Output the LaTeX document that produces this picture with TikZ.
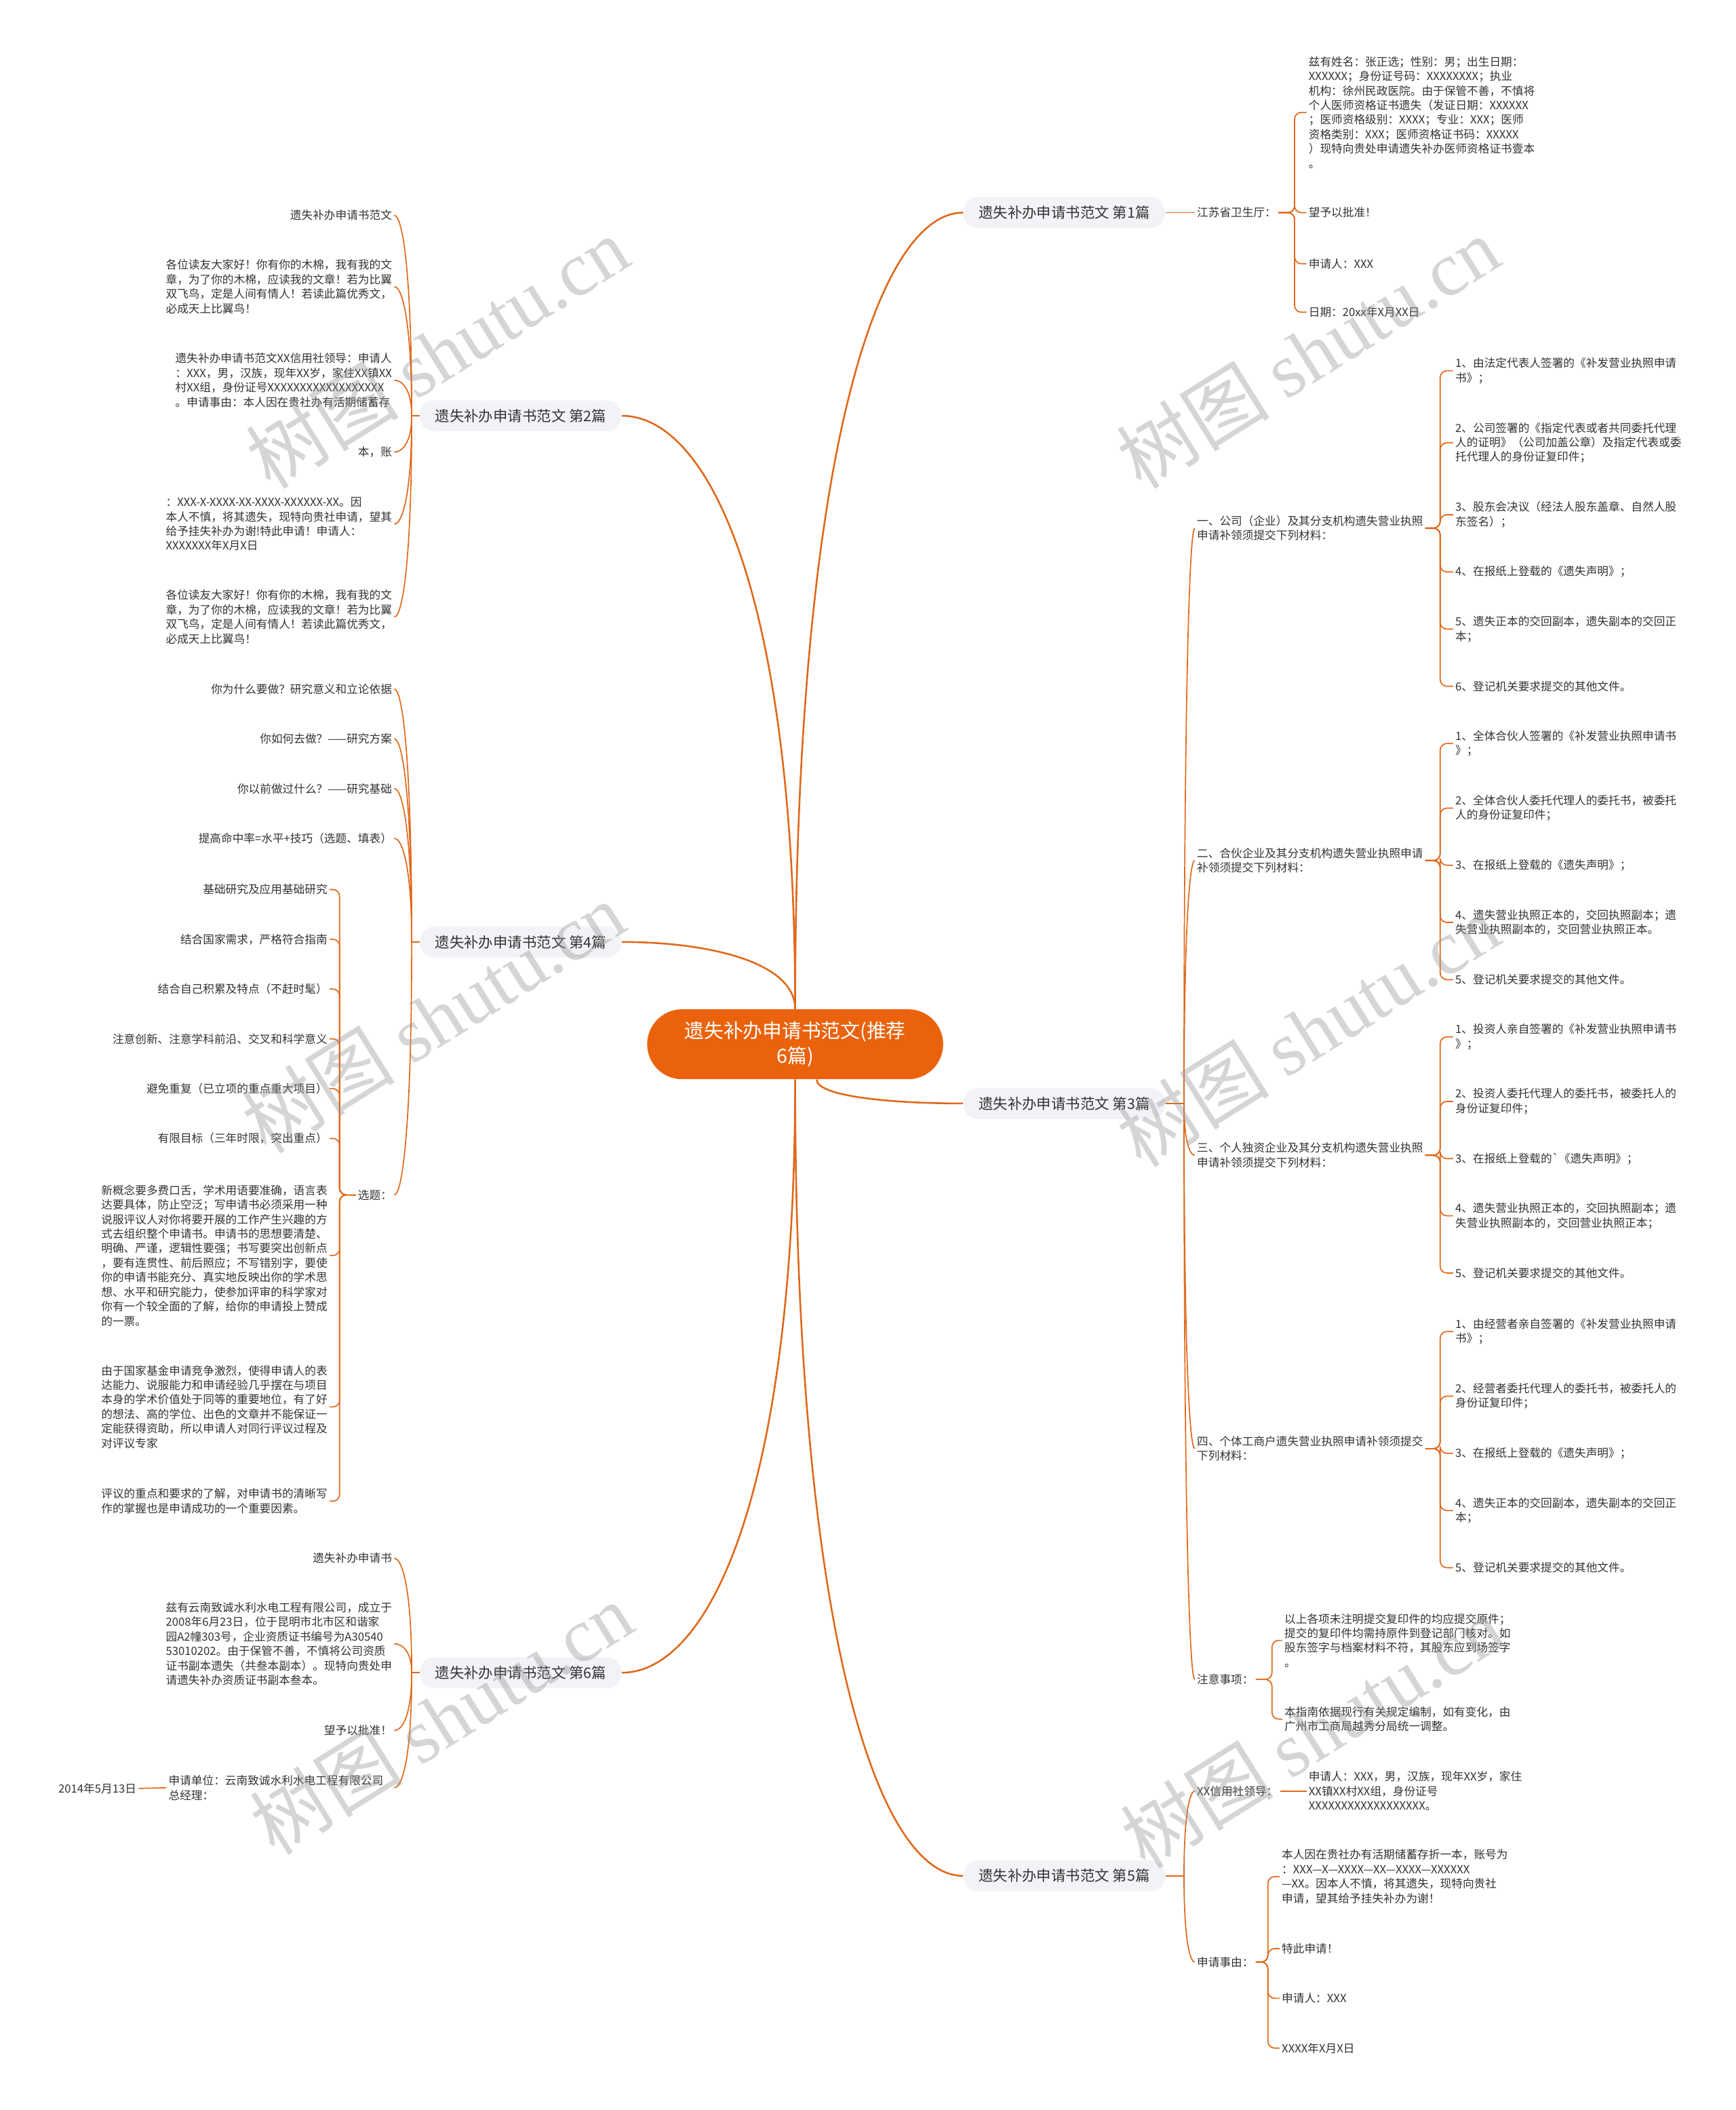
\documentclass[tikz,border=0pt]{standalone}
\usepackage{fontspec}
\setmainfont{Noto Sans CJK SC}
\newfontfamily\wmlatin{Liberation Serif}
\usepackage{tikz}
\usetikzlibrary{calc}
\definecolor{maporange}{RGB}{234, 99, 12}
\definecolor{linkorange}{RGB}{224, 104, 26}
\definecolor{topicfill}{RGB}{241, 243, 246}
\definecolor{inkgray}{RGB}{51, 51, 51}
\definecolor{wmgray}{RGB}{150, 150, 150}
\newcommand{\leaffont}{\fontsize{8.4}{10.8}\selectfont}
\newcommand{\topicfont}{\fontsize{10.8}{13}\selectfont}
\newcommand{\rootfont}{\fontsize{14.5}{19}\selectfont}
\newcommand{\wmtext}{{\fontsize{57}{57}\selectfont 树图 {\wmlatin shutu.cn}}}

\begin{document}
\begin{tikzpicture}[
  x=1pt, y=-1pt,
  root/.style={rectangle, rounded corners=26pt, minimum width=220pt, minimum height=52pt, fill=maporange, text=white, font=\rootfont, align=center, inner sep=0pt},
  topic/.style={rectangle, rounded corners=11pt, minimum width=150pt, minimum height=23pt, fill=topicfill, text=inkgray, font=\topicfont, inner sep=0pt},
  rtext/.style={anchor=west, align=left, inner sep=1.5pt, font=\leaffont, text=inkgray},
  ltext/.style={anchor=east, align=left, inner sep=1.5pt, font=\leaffont, text=inkgray},
  trunk/.style={draw=linkorange, line width=1.3pt},
  twig/.style={draw=linkorange, line width=0.85pt, rounded corners=5pt},
  sweep/.style={to path={.. controls ($(\tikztostart)!0.7!(\tikztostart |- \tikztotarget)$) and ($(\tikztotarget)!0.5!(\tikztostart |- \tikztotarget)$) .. (\tikztotarget)}},
  wmark/.style={rotate=32, text=wmgray, text opacity=0.4, inner sep=0pt}
]
\fill[white] (0,0) rectangle (1290,1568);
\useasboundingbox (0,0) rectangle (1290,1568);

% Root and topics
\node[root] (main) at (591,776) {遗失补办申请书范文(推荐\\6篇)};
\node[topic] (t1) at (791,158) {遗失补办申请书范文 第1篇};
\node[topic] (t3) at (791,820) {遗失补办申请书范文 第3篇};
\node[topic] (t5) at (791,1394) {遗失补办申请书范文 第5篇};
\node[topic] (t2) at (387,309) {遗失补办申请书范文 第2篇};
\node[topic] (t4) at (387,700) {遗失补办申请书范文 第4篇};
\node[topic] (t6) at (387,1243) {遗失补办申请书范文 第6篇};

% Branch 1 (right, top)
\node[rtext] (jsw) at (888,158) {江苏省卫生厅：};
\node[rtext] (p1) at (971,83.5) {兹有姓名：张正选；性别：男；出生日期：\\XXXXXX；身份证号码：XXXXXXXX；执业\\机构：徐州民政医院。由于保管不善，不慎将\\个人医师资格证书遗失（发证日期：XXXXXX\\；医师资格级别：XXXX；专业：XXX；医师\\资格类别：XXX；医师资格证书码：XXXXX\\）现特向贵处申请遗失补办医师资格证书壹本\\。};
\node[rtext] (p2) at (971,158) {望予以批准！};
\node[rtext] (p3) at (971,196) {申请人：XXX};
\node[rtext] (p4) at (971,232) {日期：20xx年X月XX日};

% Branch 3 (right, middle)
\node[rtext] (s1) at (888,392.5) {一、公司（企业）及其分支机构遗失营业执照\\申请补领须提交下列材料：};
\node[rtext] (s2) at (888,639.5) {二、合伙企业及其分支机构遗失营业执照申请\\补领须提交下列材料：};
\node[rtext] (s3) at (888,858.5) {三、个人独资企业及其分支机构遗失营业执照\\申请补领须提交下列材料：};
\node[rtext] (s4) at (888,1076.5) {四、个体工商户遗失营业执照申请补领须提交\\下列材料：};
\node[rtext] (s5) at (888,1248) {注意事项：};

\node[rtext] (a11) at (1080,275.5) {1、由法定代表人签署的《补发营业执照申请\\书》；};
\node[rtext] (a12) at (1080,329) {2、公司签署的《指定代表或者共同委托代理\\人的证明》（公司加盖公章）及指定代表或委\\托代理人的身份证复印件；};
\node[rtext] (a13) at (1080,382.5) {3、股东会决议（经法人股东盖章、自然人股\\东签名）；};
\node[rtext] (a14) at (1080,425) {4、在报纸上登载的《遗失声明》；};
\node[rtext] (a15) at (1080,467.5) {5、遗失正本的交回副本，遗失副本的交回正\\本；};
\node[rtext] (a16) at (1080,510) {6、登记机关要求提交的其他文件。};

\node[rtext] (a21) at (1080,552.5) {1、全体合伙人签署的《补发营业执照申请书\\》；};
\node[rtext] (a22) at (1080,600.5) {2、全体合伙人委托代理人的委托书，被委托\\人的身份证复印件；};
\node[rtext] (a23) at (1080,643) {3、在报纸上登载的《遗失声明》；};
\node[rtext] (a24) at (1080,685.5) {4、遗失营业执照正本的，交回执照副本；遗\\失营业执照副本的，交回营业执照正本。};
\node[rtext] (a25) at (1080,728) {5、登记机关要求提交的其他文件。};

\node[rtext] (a31) at (1080,770.5) {1、投资人亲自签署的《补发营业执照申请书\\》；};
\node[rtext] (a32) at (1080,818.5) {2、投资人委托代理人的委托书，被委托人的\\身份证复印件；};
\node[rtext] (a33) at (1080,861) {3、在报纸上登载的\textasciigrave《遗失声明》；};
\node[rtext] (a34) at (1080,903.5) {4、遗失营业执照正本的，交回执照副本；遗\\失营业执照副本的，交回营业执照正本；};
\node[rtext] (a35) at (1080,946) {5、登记机关要求提交的其他文件。};

\node[rtext] (a41) at (1080,989.5) {1、由经营者亲自签署的《补发营业执照申请\\书》；};
\node[rtext] (a42) at (1080,1037.5) {2、经营者委托代理人的委托书，被委托人的\\身份证复印件；};
\node[rtext] (a43) at (1080,1080) {3、在报纸上登载的《遗失声明》；};
\node[rtext] (a44) at (1080,1122.5) {4、遗失正本的交回副本，遗失副本的交回正\\本；};
\node[rtext] (a45) at (1080,1165) {5、登记机关要求提交的其他文件。};

\node[rtext] (a51) at (953,1219) {以上各项未注明提交复印件的均应提交原件；\\提交的复印件均需持原件到登记部门核对。如\\股东签字与档案材料不符，其股东应到场签字\\。};
\node[rtext] (a52) at (953,1277.5) {本指南依据现行有关规定编制，如有变化，由\\广州市工商局越秀分局统一调整。};

% Branch 5 (right, bottom)
\node[rtext] (q1) at (888,1331) {XX信用社领导：};
\node[rtext] (q2) at (888,1458) {申请事由：};
\node[rtext] (q11) at (971,1331) {申请人：XXX，男，汉族，现年XX岁，家住\\XX镇XX村XX组，身份证号\\XXXXXXXXXXXXXXXXXX。};
\node[rtext] (q21) at (951,1394.5) {本人因在贵社办有活期储蓄存折一本，账号为\\：XXX—X—XXXX—XX—XXXX—XXXXXX\\—XX。因本人不慎，将其遗失，现特向贵社\\申请，望其给予挂失补办为谢！};
\node[rtext] (q22) at (951,1448) {特此申请！};
\node[rtext] (q23) at (951,1485) {申请人：XXX};
\node[rtext] (q24) at (951,1522) {XXXX年X月X日};

% Branch 2 (left, top)
\node[ltext] (l21) at (293,160) {遗失补办申请书范文};
\node[ltext] (l22) at (293,213) {各位读友大家好！你有你的木棉，我有我的文\\章，为了你的木棉，应读我的文章！若为比翼\\双飞鸟，定是人间有情人！若读此篇优秀文，\\必成天上比翼鸟！};
\node[ltext] (l23) at (293,282.5) {遗失补办申请书范文XX信用社领导：申请人\\：XXX，男，汉族，现年XX岁，家住XX镇XX\\村XX组，身份证号XXXXXXXXXXXXXXXXXX\\。申请事由：本人因在贵社办有活期储蓄存};
\node[ltext] (l24) at (293,336) {本，账};
\node[ltext] (l25) at (293,389.5) {：XXX-X-XXXX-XX-XXXX-XXXXXX-XX。因\\本人不慎，将其遗失，现特向贵社申请，望其\\给予挂失补办为谢!特此申请！申请人：\\XXXXXXX年X月X日};
\node[ltext] (l26) at (293,458.5) {各位读友大家好！你有你的木棉，我有我的文\\章，为了你的木棉，应读我的文章！若为比翼\\双飞鸟，定是人间有情人！若读此篇优秀文，\\必成天上比翼鸟！};

% Branch 4 (left, middle)
\node[ltext] (l41) at (293,512) {你为什么要做？研究意义和立论依据};
\node[ltext] (l42) at (293,549) {你如何去做？——研究方案};
\node[ltext] (l43) at (293,586) {你以前做过什么？——研究基础};
\node[ltext] (l44) at (293,623) {提高命中率=水平+技巧（选题、填表）};
\node[ltext] (xt) at (293,888) {选题：};

\node[ltext] (m1) at (245,661) {基础研究及应用基础研究};
\node[ltext] (m2) at (245,698) {结合国家需求，严格符合指南};
\node[ltext] (m3) at (245,735) {结合自己积累及特点（不赶时髦）};
\node[ltext] (m4) at (245,772) {注意创新、注意学科前沿、交叉和科学意义};
\node[ltext] (m5) at (245,809) {避免重复（已立项的重点重大项目）};
\node[ltext] (m6) at (245,846) {有限目标（三年时限，突出重点）};
\node[ltext] (m7) at (245,933) {新概念要多费口舌，学术用语要准确，语言表\\达要具体，防止空泛；写申请书必须采用一种\\说服评议人对你将要开展的工作产生兴趣的方\\式去组织整个申请书。申请书的思想要清楚、\\明确、严谨，逻辑性要强；书写要突出创新点\\，要有连贯性、前后照应；不写错别字，要使\\你的申请书能充分、真实地反映出你的学术思\\想、水平和研究能力，使参加评审的科学家对\\你有一个较全面的了解，给你的申请投上赞成\\的一票。};
\node[ltext] (m8) at (245,1045.5) {由于国家基金申请竞争激烈，使得申请人的表\\达能力、说服能力和申请经验几乎摆在与项目\\本身的学术价值处于同等的重要地位，有了好\\的想法、高的学位、出色的文章并不能保证一\\定能获得资助，所以申请人对同行评议过程及\\对评议专家};
\node[ltext] (m9) at (245,1115.5) {评议的重点和要求的了解，对申请书的清晰写\\作的掌握也是申请成功的一个重要因素。};

% Branch 6 (left, bottom)
\node[ltext] (l61) at (293,1158) {遗失补办申请书};
\node[ltext] (l62) at (293,1221.5) {兹有云南致诚水利水电工程有限公司，成立于\\2008年6月23日，位于昆明市北市区和谐家\\园A2幢303号，企业资质证书编号为A30540\\53010202。由于保管不善，不慎将公司资质\\证书副本遗失（共叁本副本）。现特向贵处申\\请遗失补办资质证书副本叁本。};
\node[ltext] (l63) at (293,1286) {望予以批准！};
\node[ltext, text width=166pt] (l64) at (293,1328.5) {申请单位：云南致诚水利水电工程有限公司\\总经理：};
\node[ltext] (d6) at (103,1329) {2014年5月13日};

% Root -> topics
\coordinate (rs3) at ([xshift=16pt]main.south);
\draw[trunk] (main.north) to[sweep] (t1.west);
\draw[trunk] (main.north) to[sweep] (t2.east);
\draw[trunk] (main.north) to[sweep] (t4.east);
\draw[trunk] (rs3) to[sweep] (t3.west);
\draw[trunk] (main.south) to[sweep] (t5.west);
\draw[trunk] (main.south) to[sweep] (t6.east);

% Topic 1
\draw[twig] (t1.east) -- (jsw.west);
\foreach \n in {p1,p2,p3,p4}
  \draw[twig] (jsw.east) -- ++(12,0) |- (\n.west);

% Topic 3
\coordinate (j3) at (880,820);
\draw[twig] (t3.east) -- (j3);
\foreach \n in {s1,s2,s3,s4,s5}
  \draw[twig] (j3) to[sweep] (\n.west);
\foreach \n in {a11,a12,a13,a14,a15,a16}
  \draw[twig] (s1.east) -- ++(11,0) |- (\n.west);
\foreach \n in {a21,a22,a23,a24,a25}
  \draw[twig] (s2.east) -- ++(11,0) |- (\n.west);
\foreach \n in {a31,a32,a33,a34,a35}
  \draw[twig] (s3.east) -- ++(11,0) |- (\n.west);
\foreach \n in {a41,a42,a43,a44,a45}
  \draw[twig] (s4.east) -- ++(11,0) |- (\n.west);
\foreach \n in {a51,a52}
  \draw[twig] (s5.east) -- ++(12,0) |- (\n.west);

% Topic 5
\coordinate (j5) at (880,1394);
\draw[twig] (t5.east) -- (j5);
\draw[twig] (j5) to[sweep] (q1.west);
\draw[twig] (j5) to[sweep] (q2.west);
\draw[twig] (q1.east) -- (q11.west);
\foreach \n in {q21,q22,q23,q24}
  \draw[twig] (q2.east) -- ++(9,0) |- (\n.west);

% Topic 2
\coordinate (j2) at (306,309);
\draw[twig] (t2.west) -- (j2);
\foreach \n in {l21,l22,l23,l24,l25,l26}
  \draw[twig] (j2) to[sweep] (\n.east);

% Topic 4
\coordinate (j4) at (306,700);
\draw[twig] (t4.west) -- (j4);
\foreach \n in {l41,l42,l43,l44,xt}
  \draw[twig] (j4) to[sweep] (\n.east);
\foreach \n in {m1,m2,m3,m4,m5,m6,m7,m8,m9}
  \draw[twig] (xt.west) -- ++(-12,0) |- (\n.east);

% Topic 6
\coordinate (j6) at (306,1243);
\draw[twig] (t6.west) -- (j6);
\foreach \n in {l61,l62,l63,l64}
  \draw[twig] (j6) to[sweep] (\n.east);
\draw[twig] (l64.west) -- (d6.east);

% Watermarks
\node[wmark] (w1) at (325,262) {\wmtext};
\node[wmark] (w2) at (972,262) {\wmtext};
\node[wmark] (w3) at (322,756) {\wmtext};
\node[wmark] (w4) at (972,766) {\wmtext};
\node[wmark] (w5) at (328,1277) {\wmtext};
\node[wmark] (w6) at (975,1287) {\wmtext};

\end{tikzpicture}
\end{document}
